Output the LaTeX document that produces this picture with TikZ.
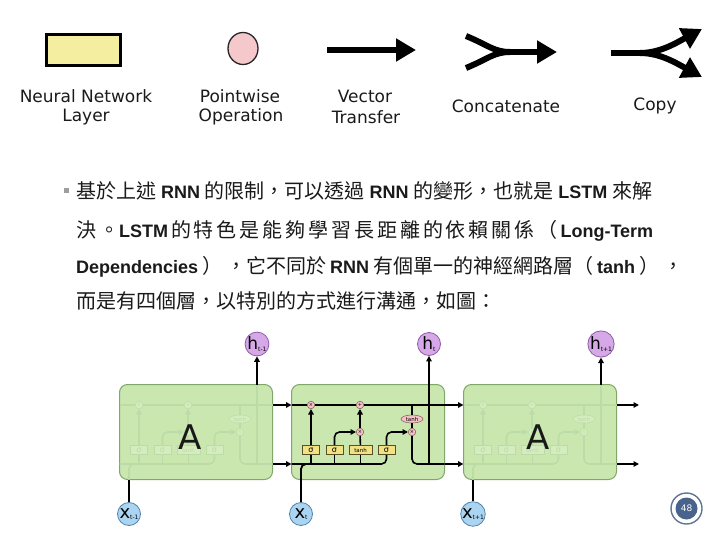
\documentclass[tikz,border=0pt]{standalone}
\usepackage{fontspec}
\setmainfont{DejaVu Sans}
\newfontfamily\cjk{Noto Sans CJK TC}
\newfontfamily\lat{Liberation Sans}
\usetikzlibrary{arrows.meta,shapes.geometric}
\definecolor{cellfill}{RGB}{202,231,176}
\definecolor{cellborder}{RGB}{128,166,106}
\definecolor{hfill}{RGB}{214,168,232}
\definecolor{hborder}{RGB}{140,92,168}
\definecolor{xfill}{RGB}{170,212,240}
\definecolor{xborder}{RGB}{80,132,176}
\definecolor{gatefill}{RGB}{242,226,132}
\definecolor{gateborder}{RGB}{90,80,40}
\definecolor{pwfill}{RGB}{244,194,198}
\definecolor{pwborder}{RGB}{130,80,80}
\definecolor{faintline}{RGB}{187,220,167}
\definecolor{faintfill}{RGB}{212,236,190}
\definecolor{legyellow}{RGB}{243,238,160}
\definecolor{legpink}{RGB}{245,200,204}
\definecolor{pgblue}{RGB}{72,100,140}
\definecolor{pgring}{RGB}{96,118,150}
\definecolor{txt}{RGB}{26,26,26}
\tikzset{
  lw/.style={line width=1.6pt,black},
  arr/.style={lw,-{Triangle[length=5.5pt,width=5.5pt]}},
  legarr/.style={line width=6pt,black,-{Triangle[length=20pt,width=22pt]}},
  legline/.style={line width=6pt,black},
  legtxt/.style={font=\fontsize{17}{17}\selectfont,text=txt,inner sep=0pt},
  cellbox/.style={draw=cellborder,fill=cellfill,rounded corners=8pt,line width=1pt,minimum width=153pt,minimum height=95pt,inner sep=0pt},
  hn/.style={circle,draw=hborder,fill=hfill,line width=0.8pt,minimum size=23pt,inner sep=0pt},
  xn/.style={circle,draw=xborder,fill=xfill,line width=0.8pt,minimum size=23pt,inner sep=0pt},
  oncell/.style={
    ln/.style={line width=1.6pt,black},
    ar/.style={line width=1.6pt,black,-{Triangle[length=5.5pt,width=5.5pt]}},
    po/.style={circle,draw=pwborder,fill=pwfill,line width=0.5pt,minimum size=7.5pt,inner sep=0pt,font=\fontsize{5}{5}\selectfont},
    pe/.style={ellipse,draw=pwborder,fill=pwfill,line width=0.5pt,minimum width=22pt,minimum height=8pt,inner sep=0pt,font=\fontsize{5.5}{5.5}\selectfont},
    gt/.style={draw=gateborder,fill=gatefill,line width=0.6pt,minimum height=9.5pt,inner sep=0pt,font=\fontsize{8}{8}\selectfont}},
  offcell/.style={
    ln/.style={line width=1.6pt,faintline},
    ar/.style={line width=1.6pt,faintline,-{Triangle[length=5.5pt,width=5.5pt]}},
    po/.style={circle,draw=faintline,fill=faintfill,line width=0.5pt,minimum size=7.5pt,inner sep=0pt,text=faintline,font=\fontsize{5}{5}\selectfont},
    pe/.style={ellipse,draw=faintline,fill=faintfill,line width=0.5pt,minimum width=22pt,minimum height=8pt,inner sep=0pt,text=faintline,font=\fontsize{5.5}{5.5}\selectfont},
    gt/.style={draw=faintline,fill=faintfill,line width=0.6pt,minimum height=9.5pt,inner sep=0pt,text=faintline,font=\fontsize{8}{8}\selectfont}},
  para/.style={anchor=base west,inner sep=0pt,text=txt}
}
\newcommand\lstminner[1]{%
  \coordinate (#1L) at (291.5,405);
  \coordinate (#1R) at (444.5,405);
  \coordinate (#1BL) at (291.5,464);
  \coordinate (#1BR) at (444.5,464);
  \coordinate (#1H) at (429,464);
  \coordinate (#1T) at (429,384.5);
  \coordinate (#1X) at (301,479.5);
  \node[po] (#1x1) at (311,405) {×};
  \node[po] (#1pl) at (360,405) {+};
  \node[po] (#1x2) at (360,432) {×};
  \node[pe] (#1te) at (412,419) {tanh};
  \node[po] (#1x3) at (412,432) {×};
  \node[gt,minimum width=17pt] (#1s1) at (311,450) {σ};
  \node[gt,minimum width=17pt] (#1s2) at (334.5,450) {σ};
  \node[gt,minimum width=23pt,font=\fontsize{5.5}{5.5}\selectfont] (#1tb) at (360.5,450) {tanh};
  \node[gt,minimum width=17pt] (#1s3) at (386.5,450) {σ};
  \draw[ln] (#1L) -- (#1x1) -- (#1pl) -- (#1R);
  \draw[ln,rounded corners=5pt] (#1BL) -| (#1s3);
  \draw[ln,rounded corners=5pt] (#1X) |- (#1s1 |- #1BL);
  \draw[ln] (#1s1 |- #1BL) -- (#1s1);
  \draw[ln] (#1s2 |- #1BL) -- (#1s2);
  \draw[ln] (#1tb |- #1BL) -- (#1tb);
  \draw[ar] (#1s1) -- (#1x1);
  \draw[ar,rounded corners=5pt] (#1s2) |- (#1x2);
  \draw[ln] (#1tb) -- (#1x2);
  \draw[ar] (#1x2) -- (#1pl);
  \draw[ar,rounded corners=5pt] (#1s3) |- (#1x3);
  \draw[ln] (#1te |- #1L) -- (#1te);
  \draw[ln] (#1te) -- (#1x3);
  \draw[ln,rounded corners=5pt] (#1x3) |- (#1BR);
  \draw[ln] (#1H) -- (#1T);
}
\newcommand\hlab[1]{{\fontsize{17}{17}\selectfont h}\raisebox{-1.5pt}{\fontsize{6}{6}\selectfont #1}}
\newcommand\xlab[1]{{\fontsize{18}{18}\selectfont x}\raisebox{-1.5pt}{\fontsize{6}{6}\selectfont #1}}
\newcommand\cj[1]{{\cjk\fontsize{20}{20}\selectfont #1}}
\newcommand\lt[1]{{\lat\bfseries\fontsize{18}{18}\selectfont #1}}
\newcommand\gp{\hspace{4pt plus 1fill}}
\begin{document}
\begin{tikzpicture}[x=1pt,y=-1pt]
\useasboundingbox (0,0) rectangle (720,540);
\fill[white] (0,0) rectangle (720,540);

% ---------- legend ----------
\node[draw=black,line width=3pt,fill=legyellow,minimum width=74pt,minimum height=31pt,inner sep=0pt] (nnl) at (83.5,50) {};
\node[legtxt] (t1a) at (86,96) {Neural Network};
\node[legtxt] (t1b) at (86,117) {Layer};
\node[ellipse,draw=black!85,line width=1.3pt,fill=legpink,minimum width=30pt,minimum height=32pt,inner sep=0pt] (pwo) at (243,48.5) {};
\node[legtxt] (t2a) at (240,96) {Pointwise};
\node[legtxt] (t2b) at (241,117) {Operation};
\coordinate (va) at (327,50);
\coordinate (vb) at (416,50);
\draw[legarr] (va) -- (vb);
\node[legtxt] (t3a) at (365,96) {Vector};
\node[legtxt] (t3b) at (366,117) {Transfer};
\coordinate (ca) at (466,36);
\coordinate (cb) at (466,68);
\coordinate (cm) at (510,52);
\coordinate (cc) at (557,52);
\draw[legline] (ca) .. controls (488,45) and (494,52) .. (cm);
\draw[legline] (cb) .. controls (488,59) and (494,52) .. (cm);
\draw[legarr] (cm) -- (cc);
\node[legtxt] (t4) at (506,106) {Concatenate};
\coordinate (pa) at (611,53);
\coordinate (pm) at (640,53);
\coordinate (pu) at (702,29);
\coordinate (pd) at (702,77);
\draw[legline] (pa) -- (pm);
\draw[legarr] (pm) .. controls (660,53) and (676,43) .. (pu);
\draw[legarr] (pm) .. controls (660,53) and (676,63) .. (pd);
\node[legtxt] (t5) at (655,106) {Copy};

% ---------- paragraph ----------
\node[fill=black!38,minimum size=5pt,inner sep=0pt] (bul) at (66,191) {};
\node[para] (l1) at (76,199) {\makebox[576pt][l]{\cj{基於上述}\gp\lt{RNN}\gp\cj{的限制，可以透過}\gp\lt{RNN}\gp\cj{的變形，也就是}\gp\lt{LSTM}\gp\cj{來解}}};
\node[para] (l2) at (76,237) {\makebox[577pt][l]{\cj{決}\hfill\cj{。}\lt{LSTM}\hfill\cj{的}\hfill\cj{特}\hfill\cj{色}\hfill\cj{是}\hfill\cj{能}\hfill\cj{夠}\hfill\cj{學}\hfill\cj{習}\hfill\cj{長}\hfill\cj{距}\hfill\cj{離}\hfill\cj{的}\hfill\cj{依}\hfill\cj{賴}\hfill\cj{關}\hfill\cj{係}\hfill\cj{（}\hfill\lt{Long-Term}}};
\node[para] (l3) at (76,273) {\makebox[584pt][l]{\lt{Dependencies}\gp\cj{）}\gp\cj{，它不同於}\gp\lt{RNN}\gp\cj{有個單一的神經網路層（}\gp\lt{tanh}\gp\cj{）}\gp\cj{，}}};
\node[para] (l4) at (76,308) {\cj{而是有四個層，以特別的方式進行溝通，如圖：}};

% ---------- LSTM chain ----------
\node[cellbox] (boxL) at (196,432) {};
\node[cellbox] (boxM) at (368,432) {};
\node[cellbox] (boxR) at (540,432) {};

\begin{scope}[xshift=-172pt,offcell]
  \lstminner{L}
\end{scope}
\begin{scope}[xshift=172pt,offcell]
  \lstminner{R}
\end{scope}
\begin{scope}[oncell]
  \lstminner{M}
\end{scope}

\node[font=\fontsize{34}{34}\selectfont,text=black!90] (AL) at (190,437) {A};
\node[font=\fontsize{34}{34}\selectfont,text=black!90] (AR) at (538,437) {A};

\node[hn] (hL) at (257,344) {\hlab{t-1}};
\node[hn] (hM) at (429,344) {\hlab{t}};
\node[hn] (hR) at (601,344) {\hlab{t+1}};
\node[xn] (xL) at (129,514) {\xlab{t-1}};
\node[xn] (xM) at (301,514) {\xlab{t}};
\node[xn] (xR) at (473,514) {\xlab{t+1}};

\draw[arr] (LT) -- (hL);
\draw[arr] (MH) -- (hM);
\draw[arr] (RT) -- (hR);
\draw[lw] (xL) -- (LX);
\draw[lw] (xR) -- (RX);
\draw[lw,rounded corners=5pt] (xM) |- (Ms1 |- MBL);

\draw[arr] (LR) -- (ML);
\draw[arr] (LBR) -- (MBL);
\draw[arr] (MR) -- (RL);
\draw[arr] (MBR) -- (RBL);
\coordinate (o1) at (639,405);
\coordinate (o2) at (639,464);
\draw[arr] (RR) -- (o1);
\draw[arr] (RBR) -- (o2);

% ---------- page number ----------
\node[circle,draw=pgring,line width=1.4pt,minimum size=31pt,inner sep=0pt] (pgr) at (686.5,508.5) {};
\node[circle,fill=pgblue,minimum size=22pt,inner sep=0pt,text=white,font=\fontsize{9}{9}\selectfont] (pg) at (pgr) {48};
\end{tikzpicture}
\end{document}
